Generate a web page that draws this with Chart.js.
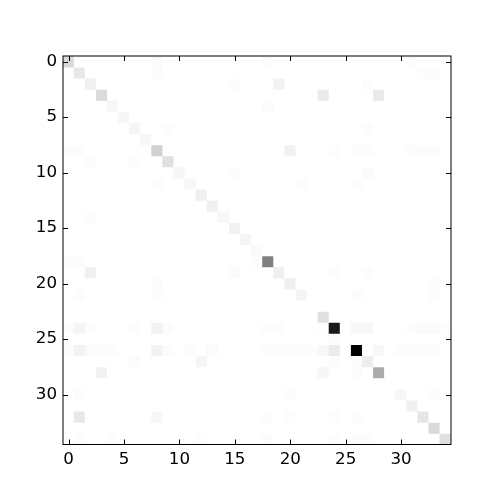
<!DOCTYPE html>
<html>
<head>
<meta charset="utf-8">
<script src="https://cdn.jsdelivr.net/npm/chart.js@4"></script>
<style>
  body { margin: 0; background: #fff; }
  #wrap { width: 500px; height: 500px; }
</style>
</head>
<body>
<div id="wrap"><canvas id="heat" width="500" height="500"></canvas></div>
<script>
// matrix size and tick labels
const size = 35;
const tickValues = [0, 5, 10, 15, 20, 25, 30];

// non-zero cells: [row, col, value]  (0 = white, 1 = black)
const diagonal = [
  [0, 0, .15], [1, 1, .09], [2, 2, .06], [3, 3, .14], [4, 4, .03], [5, 5, .03],
  [6, 6, .04], [7, 7, .03], [8, 8, .18], [9, 9, .12], [10, 10, .03], [11, 11, .03],
  [12, 12, .06], [13, 13, .06], [14, 14, .03], [15, 15, .05], [16, 16, .04],
  [17, 17, .02], [18, 18, .50], [19, 19, .06], [20, 20, .06], [21, 21, .04],
  [23, 23, .12], [24, 24, .90], [26, 26, 1.0], [27, 27, .07], [28, 28, .33],
  [30, 30, .03], [31, 31, .06], [32, 32, .10], [33, 33, .15], [34, 34, .12]
];
const offDiagonal = [
  [0, 8, .015], [0, 18, .01], [0, 31, .01],
  [1, 8, .01], [1, 32, .01], [1, 33, .01],
  [2, 15, .01], [2, 19, .05], [2, 27, .01],
  [3, 23, .08], [3, 28, .08],
  [4, 18, .015],
  [6, 9, .01], [6, 27, .01],
  [8, 0, .015], [8, 1, .015], [8, 20, .05], [8, 24, .01], [8, 26, .01], [8, 27, .01],
  [8, 31, .01], [8, 32, .015], [8, 33, .015],
  [9, 2, .01], [9, 6, .01],
  [10, 15, .01], [10, 27, .015],
  [11, 8, .01], [11, 21, .01], [11, 26, .01],
  [14, 2, .01],
  [18, 0, .01], [18, 1, .01], [18, 17, .008],
  [19, 2, .06], [19, 15, .015], [19, 24, .01], [19, 27, .01],
  [20, 8, .01], [20, 33, .01],
  [21, 1, .01], [21, 8, .01], [21, 26, .01], [21, 33, .01],
  [24, 0, .01], [24, 1, .04], [24, 2, .01], [24, 6, .01], [24, 8, .05], [24, 9, .01],
  [24, 18, .01], [24, 19, .01], [24, 23, .008], [24, 26, .03], [24, 27, .03],
  [24, 31, .01], [24, 32, .015], [24, 33, .015], [24, 34, .008],
  [25, 24, .01],
  [26, 0, .01], [26, 1, .05], [26, 2, .015], [26, 3, .01], [26, 4, .01], [26, 8, .05],
  [26, 9, .01], [26, 11, .01], [26, 13, .015], [26, 18, .01], [26, 19, .01],
  [26, 20, .01], [26, 21, .01], [26, 22, .01], [26, 23, .03], [26, 24, .08],
  [26, 28, .03], [26, 30, .01], [26, 31, .01], [26, 32, .015], [26, 33, .015],
  [27, 6, .015], [27, 12, .04], [27, 24, .01], [27, 26, .01],
  [28, 3, .05], [28, 23, .03], [28, 26, .01],
  [30, 1, .01], [30, 20, .01], [30, 33, .01],
  [32, 1, .09], [32, 8, .03], [32, 18, .01], [32, 20, .01], [32, 24, .01], [32, 26, .01],
  [34, 1, .01], [34, 4, .01], [34, 12, .01], [34, 18, .01], [34, 24, .01],
  [34, 26, .01], [34, 27, .01]
];

// full grid
const grid = [];
for (let r = 0; r < size; r++) grid.push(new Array(size).fill(0));
diagonal.concat(offDiagonal).forEach(([r, c, v]) => { grid[r][c] = v; });

function shade(v) {
  const g = Math.round(255 * (1 - v));
  return `rgb(${g},${g},${g})`;
}

const cols = [...Array(size).keys()];
const datasets = grid.map((row, r) => ({
  data: cols.map(c => ({ x: c, y: [r - 0.5, r + 0.5] })),
  backgroundColor: row.map(shade),
  borderWidth: 0,
  barPercentage: 1,
  categoryPercentage: 1,
  grouped: false
}));

// frame + inward ticks, like the classic matplotlib look
const frame = {
  id: 'frame',
  afterDraw(chart) {
    const { ctx, chartArea: a, scales } = chart;
    ctx.save();
    ctx.strokeStyle = '#000';
    ctx.lineWidth = 1;
    ctx.strokeRect(a.left, a.top, a.right - a.left, a.bottom - a.top);
    ctx.beginPath();
    tickValues.forEach(v => {
      const x = Math.round(scales.x.getPixelForValue(v)) + 0.5;
      ctx.moveTo(x, a.bottom); ctx.lineTo(x, a.bottom - 5);
      ctx.moveTo(x, a.top); ctx.lineTo(x, a.top + 5);
      const y = Math.round(scales.y.getPixelForValue(v)) + 0.5;
      ctx.moveTo(a.left, y); ctx.lineTo(a.left + 5, y);
      ctx.moveTo(a.right, y); ctx.lineTo(a.right - 5, y);
    });
    ctx.stroke();
    ctx.restore();
  }
};

const tickFont = { family: 'DejaVu Sans', size: 16.7 };
const setTicks = s => { s.ticks = tickValues.map(v => ({ value: v })); };

new Chart('heat', {
  type: 'bar',
  data: { datasets },
  options: {
    responsive: false,
    animation: false,
    layout: { padding: { top: 56, right: 49, left: 0, bottom: 0 } },
    plugins: { legend: { display: false }, tooltip: { enabled: false } },
    scales: {
      x: {
        type: 'linear',
        offset: false,
        min: -0.5, max: 34.5,
        grid: { display: false, drawTicks: false },
        border: { display: false },
        ticks: { color: '#000', font: tickFont, padding: 5, maxRotation: 0 },
        afterBuildTicks: setTicks,
        afterFit(s) { s.height = 55.5; }
      },
      y: {
        type: 'linear',
        reverse: true,
        offset: false,
        min: -0.5, max: 34.5,
        grid: { display: false, drawTicks: false },
        border: { display: false },
        ticks: { color: '#000', font: tickFont, padding: 6 },
        afterBuildTicks: setTicks,
        afterFit(s) { s.width = 63; }
      }
    }
  },
  plugins: [frame]
});
</script>
</body>
</html>
